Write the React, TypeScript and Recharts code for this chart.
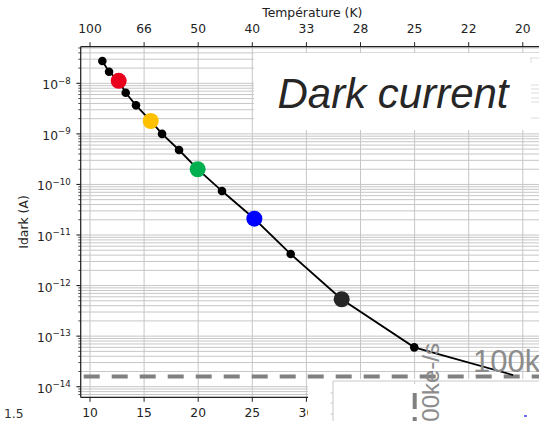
import { CartesianGrid, ComposedChart, Line, ReferenceLine, XAxis, YAxis } from "recharts";

// 1000/T on the bottom axis, dark current in A
const invTemp = [11.14, 11.76, 12.65, 13.3, 14.25, 15.61, 16.66, 18.23, 19.95, 22.2, 25.19, 28.55, 33.26, 39.97, 49.1];
const idark = [2.76e-8, 1.69e-8, 1.12e-8, 6.5e-9, 3.67e-9, 1.8e-9, 1.0e-9, 4.8e-10, 2.0e-10, 7.4e-11, 2.1e-11, 4.2e-12, 5.36e-13, 6.0e-14, 1.7e-14];
// null = small black marker, "none" = no marker
const markerColors = [null, null, "#e8001c", null, null, "#ffc000", null, null, "#00b050", null, "#0000ff", null, "#262626", null, "none"];

const xTicks = [10, 15, 20, 25, 30, 35, 40, 45, 50];
const tempLabels = ["100", "66", "50", "40", "33", "28", "25", "22", "20"];
const decades = [-15, -14, -13, -12, -11, -10, -9, -8];
const mantissas = [1, 2, 3, 4, 5, 6, 7, 8, 9];
const fluxLimit = 1.6e-14;

const X_DOMAIN = [9.14, 51.96];
const Y_DOMAIN = [6.17e-15, 5.3e-8];

const yTicks: number[] = [];
decades.forEach((d) =>
  mantissas.forEach((m) => {
    const v = m * Math.pow(10, d);
    if (v >= Y_DOMAIN[0] && v <= Y_DOMAIN[1]) yTicks.push(v);
  })
);

const data = invTemp.map((x, i) => ({ x, y: idark[i], color: markerColors[i] }));

const FONT = "DejaVu Sans";
const TXT = "#222";

function YTick(props: any) {
  const { x, y, payload } = props;
  const lg = Math.log10(payload.value);
  const exp = Math.round(lg);
  const major = Math.abs(lg - exp) < 1e-6;
  return (
    <g>
      <line x1={x - (major ? 4.3 : 2.4)} x2={x} y1={y} y2={y} stroke={TXT} strokeWidth={major ? 1.1 : 0.8} />
      {major && (
        <text x={x - 10} y={y + 6} textAnchor="end" fontFamily={FONT} fontSize={12.3} fill={TXT}>
          10
          <tspan dy={-5.8} fontSize={8.6}>
            {"\u2212" + Math.abs(exp)}
          </tspan>
        </text>
      )}
    </g>
  );
}

function renderDot(props: any) {
  const { cx, cy, index, payload } = props;
  const c = payload.color;
  if (c === "none") return <g key={`d${index}`} />;
  return <circle key={`d${index}`} cx={cx} cy={cy} r={c ? 8 : 4.3} fill={c ?? "#000"} />;
}

const axisLine = { stroke: TXT, strokeWidth: 1.2 };
const tickStyle = { fontSize: 12.3, fill: TXT, fontFamily: FONT };

export default function App() {
  return (
    <div style={{ position: "absolute", left: 0, top: 0, width: 539, height: 421, overflow: "hidden", background: "#fff" }}>
      <ComposedChart width={544} height={421} data={data} margin={{ top: 0, right: 0, bottom: 0, left: 0 }}>
        <CartesianGrid stroke="#c6c6c6" strokeWidth={1} />
        <XAxis
          dataKey="x"
          type="number"
          domain={X_DOMAIN}
          allowDataOverflow
          ticks={xTicks}
          interval={0}
          height={23.7}
          tickSize={4.5}
          tickMargin={6.5}
          axisLine={axisLine}
          tickLine={{ stroke: TXT }}
          tick={tickStyle}
        />
        <XAxis
          xAxisId="top"
          dataKey="x"
          orientation="top"
          type="number"
          domain={X_DOMAIN}
          allowDataOverflow
          ticks={xTicks}
          interval={0}
          height={46.7}
          tickSize={4.5}
          tickMargin={8.9}
          axisLine={axisLine}
          tickLine={{ stroke: TXT }}
          tick={tickStyle}
          tickFormatter={(v: number) => tempLabels[xTicks.indexOf(v)]}
        />
        <YAxis
          type="number"
          scale="log"
          domain={Y_DOMAIN}
          allowDataOverflow
          ticks={yTicks}
          interval={0}
          width={80.7}
          tickSize={0}
          tickMargin={0}
          tickLine={false}
          axisLine={axisLine}
          tick={<YTick />}
        />
        <ReferenceLine y={fluxLimit} stroke="#808080" strokeWidth={4} strokeDasharray="16 12" strokeDashoffset={25} />
        {/* same series on the temperature axis, invisible, so that axis gets its scale */}
        <Line
          xAxisId="top"
          dataKey="y"
          stroke="none"
          dot={false}
          activeDot={false}
          legendType="none"
          isAnimationActive={false}
        />
        <Line
          dataKey="y"
          type="linear"
          stroke="#000"
          strokeWidth={1.8}
          dot={renderDot}
          activeDot={false}
          isAnimationActive={false}
        />
      </ComposedChart>

      <svg width={539} height={421} style={{ position: "absolute", left: 0, top: 0, pointerEvents: "none" }}>
        <text x={312.3} y={16.5} textAnchor="middle" fontFamily={FONT} fontSize={12.4} fill={TXT}>
          Température (K)
        </text>
        <text transform="translate(27.5,222) rotate(-90)" textAnchor="middle" fontFamily={FONT} fontSize={12.4} fill={TXT}>
          Idark (A)
        </text>

        <rect x={254} y={53} width={285} height={77} fill="#fff" />
        <text x={393} y={108.3} textAnchor="middle" fontFamily="Liberation Sans" fontStyle="italic" fontSize={42} fill="#262626">
          Dark current
        </text>
        <g stroke="#dcdcdc" strokeWidth={1}>
          <path d="M530 58 H539 M531 58 V63" fill="none" />
          <line x1={531} x2={539} y1={85} y2={85} />
          <line x1={531} x2={539} y1={89} y2={89} />
          <line x1={531} x2={539} y1={93} y2={93} />
          <line x1={531} x2={539} y1={98} y2={98} />
          <line x1={531} x2={539} y1={102} y2={102} />
          <line x1={531} x2={539} y1={118} y2={118} />
        </g>

        <text x={473} y={372.3} fontFamily="Liberation Sans" fontSize={31} fill="#8c8c8c">
          100k
        </text>

        <rect x={308} y={379} width={231} height={42} fill="#fff" />
        <path d="M333 421 V381 H539" stroke="#c8c8c8" strokeWidth={1} fill="none" />
        <g stroke="#c8c8c8" strokeWidth={1}>
          <line x1={330.5} x2={333} y1={393} y2={393} />
          <line x1={330.5} x2={333} y1={403} y2={403} />
          <line x1={330.5} x2={333} y1={414} y2={414} />
          <line x1={414.7} x2={414.7} y1={381} y2={384} />
        </g>
        <line x1={414.7} x2={414.7} y1={393} y2={421} stroke="#808080" strokeWidth={4} strokeDasharray="16 8" />
        <text transform="translate(438.5,343) rotate(-90)" textAnchor="end" fontFamily="Liberation Sans" fontSize={24} fill="#8c8c8c">
          100ke-/s
        </text>
        <line x1={524} x2={527} y1={416} y2={416} stroke="#4040ff" strokeWidth={1.5} />

        <text x={4} y={418} fontFamily={FONT} fontSize={12.3} fill="#333">
          1.5
        </text>
      </svg>
    </div>
  );
}
